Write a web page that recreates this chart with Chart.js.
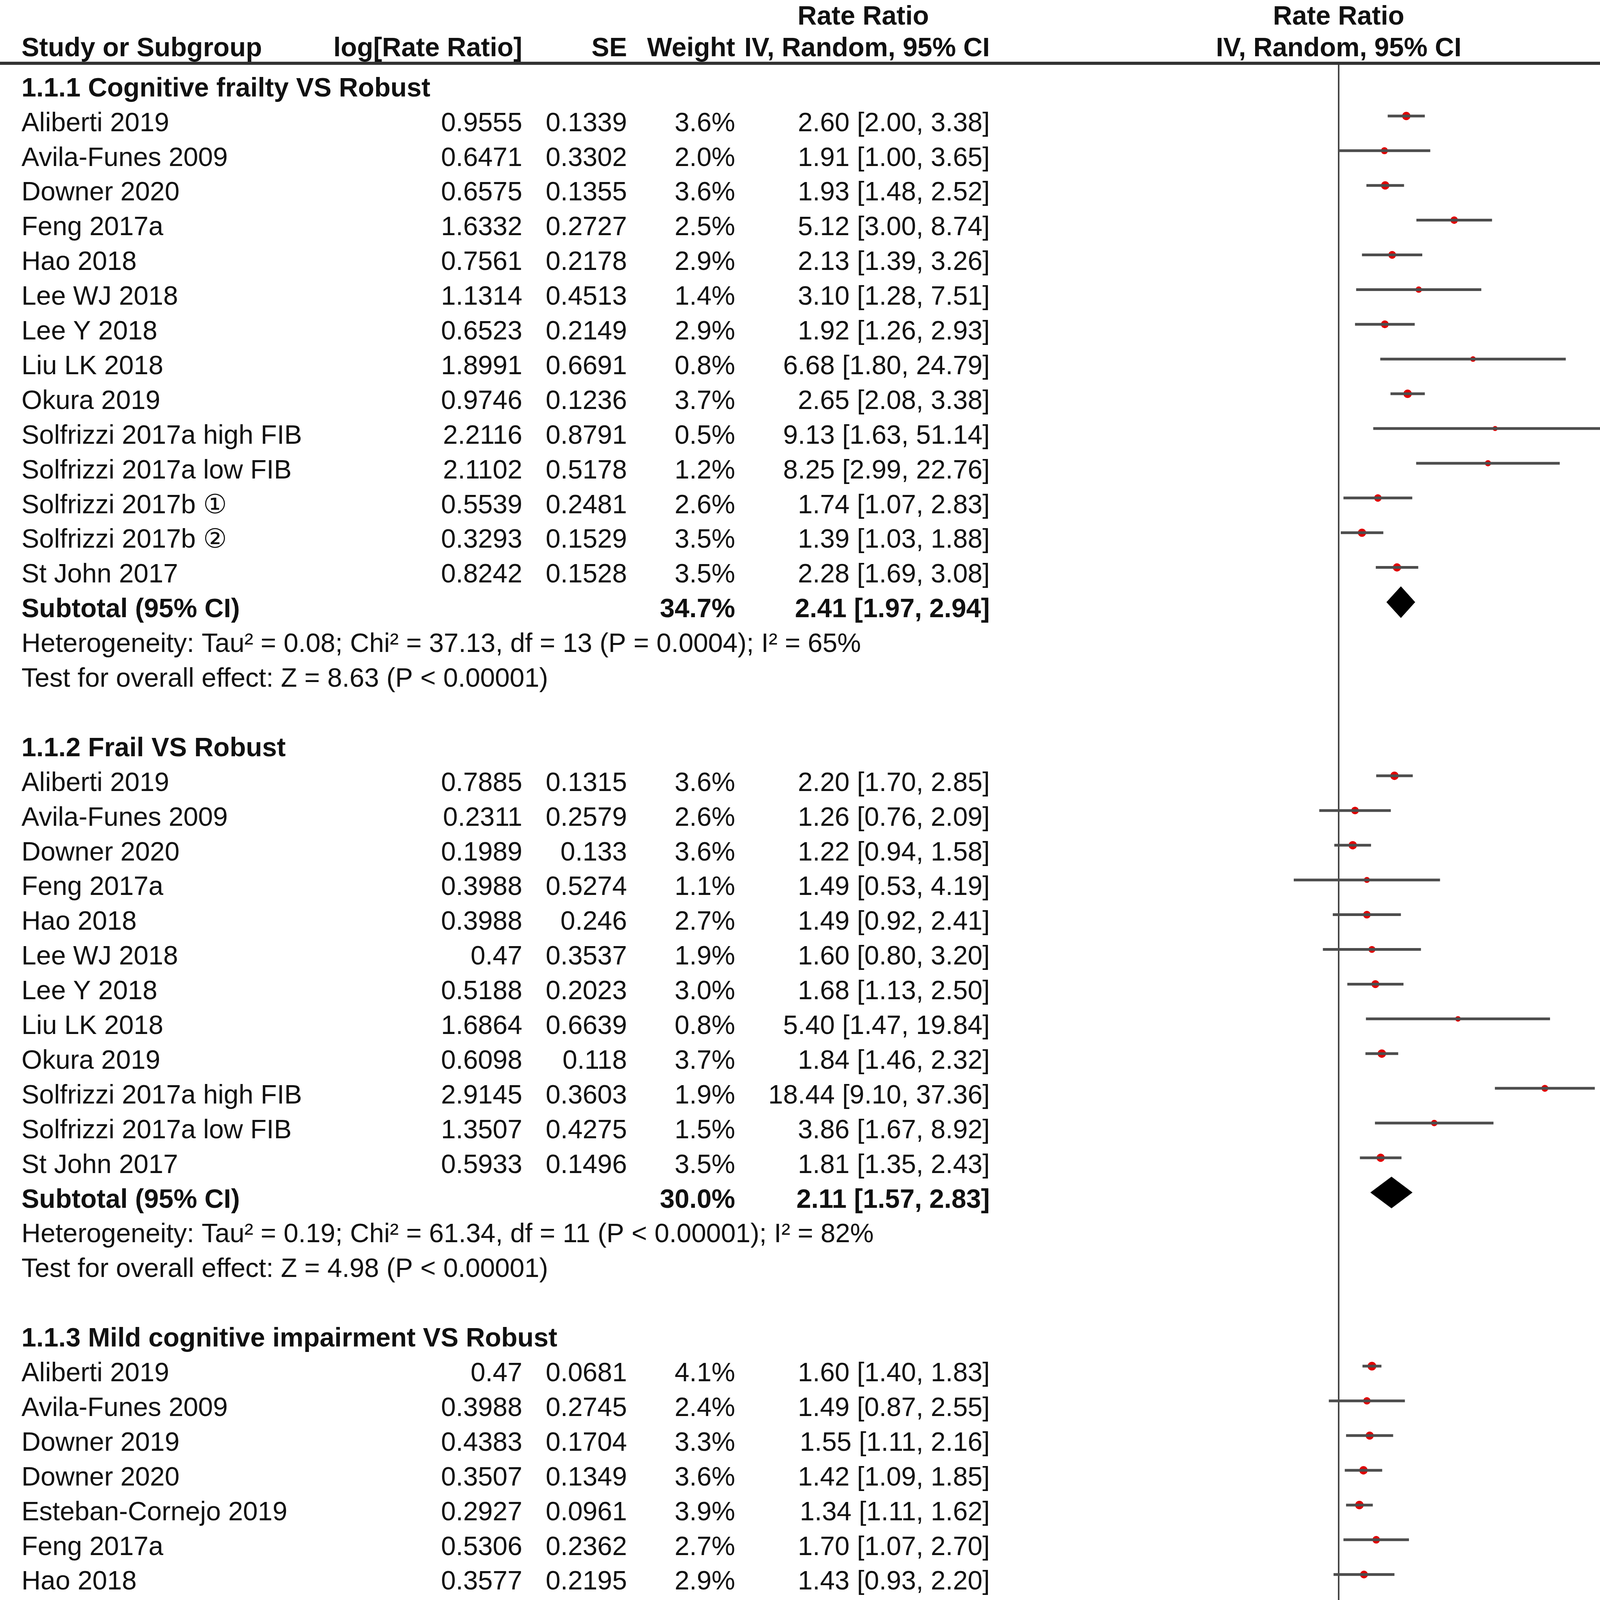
<!DOCTYPE html>
<html>
<head>
<meta charset="utf-8">
<title>Rate Ratio forest plot</title>
<script src="https://cdn.jsdelivr.net/npm/chart.js@4.4.1/dist/chart.umd.min.js"></script>
<style>
  html, body { margin: 0; padding: 0; background: #fff; }
  #wrap { width: 4328px; height: 5332px; position: relative; }
</style>
</head>
<body>
<div id="wrap"><canvas id="forest"></canvas></div>
<script>
// ---- study rows (plot order) ----
var studyGroup = [0,0,0,0,0,0,0,0,0,0,0,0,0,0,
                  1,1,1,1,1,1,1,1,1,1,1,1,
                  2,2,2,2,2,2,2,2,2,2,2,2,2];
var studyNames = [
  'Aliberti 2019', 'Avila-Funes 2009', 'Downer 2020', 'Feng 2017a', 'Hao 2018', 'Lee WJ 2018', 'Lee Y 2018',
  'Liu LK 2018', 'Okura 2019', 'Solfrizzi 2017a high FIB', 'Solfrizzi 2017a low FIB', 'Solfrizzi 2017b \u2460',
  'Solfrizzi 2017b \u2461', 'St John 2017',
  'Aliberti 2019', 'Avila-Funes 2009', 'Downer 2020', 'Feng 2017a', 'Hao 2018', 'Lee WJ 2018', 'Lee Y 2018',
  'Liu LK 2018', 'Okura 2019', 'Solfrizzi 2017a high FIB', 'Solfrizzi 2017a low FIB', 'St John 2017',
  'Aliberti 2019', 'Avila-Funes 2009', 'Downer 2019', 'Downer 2020', 'Esteban-Cornejo 2019', 'Feng 2017a',
  'Hao 2018', 'Lee WJ 2018', 'Lee Y 2018', 'Okura 2019', 'Solfrizzi 2017a high FIB', 'Solfrizzi 2017a low FIB',
  'St John 2017'
];
var logRR = [0.9555, 0.6471, 0.6575, 1.6332, 0.7561, 1.1314, 0.6523, 1.8991, 0.9746, 2.2116, 2.1102, 0.5539, 0.3293, 0.8242,
             0.7885, 0.2311, 0.1989, 0.3988, 0.3988, 0.47, 0.5188, 1.6864, 0.6098, 2.9145, 1.3507, 0.5933,
             0.47, 0.3988, 0.4383, 0.3507, 0.2927, 0.5306, 0.3577, 0.0953, -0.3567, 0.4187, 1.5539, 0.7467, 0.3988];
var seVals = [0.1339, 0.3302, 0.1355, 0.2727, 0.2178, 0.4513, 0.2149, 0.6691, 0.1236, 0.8791, 0.5178, 0.2481, 0.1529, 0.1528,
              0.1315, 0.2579, 0.133, 0.5274, 0.246, 0.3537, 0.2023, 0.6639, 0.118, 0.3603, 0.4275, 0.1496,
              0.0681, 0.2745, 0.1704, 0.1349, 0.0961, 0.2362, 0.2195, 1.2234, 0.2254, 0.1292, 0.5342, 0.5853, 0.1411];
var weights = [3.6, 2.0, 3.6, 2.5, 2.9, 1.4, 2.9, 0.8, 3.7, 0.5, 1.2, 2.6, 3.5, 3.5,
               3.6, 2.6, 3.6, 1.1, 2.7, 1.9, 3.0, 0.8, 3.7, 1.9, 1.5, 3.5,
               4.1, 2.4, 3.3, 3.6, 3.9, 2.7, 2.9, 0.3, 2.8, 3.7, 1.1, 1.0, 3.6];
var rateRatio = [2.60, 1.91, 1.93, 5.12, 2.13, 3.10, 1.92, 6.68, 2.65, 9.13, 8.25, 1.74, 1.39, 2.28,
                 2.20, 1.26, 1.22, 1.49, 1.49, 1.60, 1.68, 5.40, 1.84, 18.44, 3.86, 1.81,
                 1.60, 1.49, 1.55, 1.42, 1.34, 1.70, 1.43, 1.10, 0.70, 1.52, 4.73, 2.11, 1.49];
var ciLow = [2.00, 1.00, 1.48, 3.00, 1.39, 1.28, 1.26, 1.80, 2.08, 1.63, 2.99, 1.07, 1.03, 1.69,
             1.70, 0.76, 0.94, 0.53, 0.92, 0.80, 1.13, 1.47, 1.46, 9.10, 1.67, 1.35,
             1.40, 0.87, 1.11, 1.09, 1.11, 1.07, 0.93, 0.10, 0.45, 1.18, 1.66, 0.67, 1.13];
var ciHigh = [3.38, 3.65, 2.52, 8.74, 3.26, 7.51, 2.93, 24.79, 3.38, 51.14, 22.76, 2.83, 1.88, 3.08,
              2.85, 2.09, 1.58, 4.19, 2.41, 3.20, 2.50, 19.84, 2.32, 37.36, 8.92, 2.43,
              1.83, 2.55, 2.16, 1.85, 1.62, 2.70, 2.20, 12.10, 1.09, 1.96, 13.48, 6.65, 1.96];

// ---- subgroups ----
var groupTitles = ['1.1.1 Cognitive frailty VS Robust', '1.1.2 Frail VS Robust', '1.1.3 Mild cognitive impairment VS Robust'];
var groupWeight = [34.7, 30.0, 35.4];
var groupRR = [2.41, 2.11, 1.46];
var groupLow = [1.97, 1.57, 1.29];
var groupHigh = [2.94, 2.83, 1.64];
var groupHet = [
  'Heterogeneity: Tau\u00b2 = 0.08; Chi\u00b2 = 37.13, df = 13 (P = 0.0004); I\u00b2 = 65%',
  'Heterogeneity: Tau\u00b2 = 0.19; Chi\u00b2 = 61.34, df = 11 (P < 0.00001); I\u00b2 = 82%',
  'Heterogeneity: Tau\u00b2 = 0.01; Chi\u00b2 = 19.15, df = 12 (P = 0.08); I\u00b2 = 37%'
];
var groupTest = [
  'Test for overall effect: Z = 8.63 (P < 0.00001)',
  'Test for overall effect: Z = 4.98 (P < 0.00001)',
  'Test for overall effect: Z = 6.17 (P < 0.00001)'
];

// ---- overall ----
var totalEffect = [1.93, 1.70, 2.20]; // estimate, low, high
var totalNotes = [
  'Heterogeneity: Tau\u00b2 = 0.10; Chi\u00b2 = 158.65, df = 38 (P < 0.00001); I\u00b2 = 76%',
  'Test for overall effect: Z = 10.05 (P < 0.00001)',
  'Test for subgroup differences: Chi\u00b2 = 20.35, df = 2 (P < 0.0001), I\u00b2 = 90.2%'
];

// ---- axis ----
var xTicks = [0.01, 0.1, 1, 10, 100];
var xTickLabels = ['0.01', '0.1', '1', '10', '100'];

// layout of the rows: one unit on the y scale is one text line
var rows = [];
var studyRow = [];
var groupRow = [];
var r = 0;
for (var g = 0; g < groupTitles.length; g++) {
  rows.push({kind: 'group', text: groupTitles[g], row: r++});
  for (var i = 0; i < studyNames.length; i++) {
    if (studyGroup[i] !== g) continue;
    studyRow[i] = r;
    rows.push({kind: 'study', i: i, row: r++});
  }
  groupRow[g] = r;
  rows.push({kind: 'subtotal', g: g, row: r++});
  rows.push({kind: 'note', text: groupHet[g], row: r++});
  rows.push({kind: 'note', text: groupTest[g], row: r++});
  r++; // blank line
}
var totalRow = r;
rows.push({kind: 'total', row: r++});
totalNotes.forEach(function(t) { rows.push({kind: 'note', text: t, row: r++}); });

var FONT = "'Liberation Sans', Arial, sans-serif";
var DIAMOND_HALF = 0.45; // half height of a diamond, in rows
var TEXT_SHIFT = 20;     // text sits a little below the marks

function fmtCI(est, lo, hi) {
  return est.toFixed(2) + ' [' + lo.toFixed(2) + ', ' + hi.toFixed(2) + ']';
}

// whiskers: one line dataset broken by gaps
var whiskerData = [];
for (var k = 0; k < studyNames.length; k++) {
  whiskerData.push({x: ciLow[k], y: studyRow[k]});
  whiskerData.push({x: ciHigh[k], y: studyRow[k]});
  whiskerData.push({x: 1, y: null});
}
var pointData = studyNames.map(function(n, k) { return {x: rateRatio[k], y: studyRow[k]}; });
var pointSizes = weights.map(function(w) { return 4 + 3.5 * Math.sqrt(w); });

function diamond(est, lo, hi, row) {
  return {
    type: 'line',
    data: [
      {x: lo, y: row}, {x: est, y: row - DIAMOND_HALF},
      {x: hi, y: row}, {x: est, y: row + DIAMOND_HALF}, {x: lo, y: row}
    ],
    borderColor: '#000',
    backgroundColor: '#000',
    borderWidth: 1,
    pointRadius: 0,
    tension: 0,
    fill: 'shape'
  };
}

var datasets = [{
  type: 'line',
  data: whiskerData,
  borderColor: '#4d4d4d',
  borderWidth: 7,
  pointRadius: 0,
  spanGaps: false,
  fill: false
}, {
  type: 'line',
  data: pointData,
  showLine: false,
  pointRadius: pointSizes,
  pointStyle: 'circle',
  pointBackgroundColor: '#e00000',
  pointBorderWidth: 0
}];
for (var d = 0; d < groupTitles.length; d++) {
  datasets.push(diamond(groupRR[d], groupLow[d], groupHigh[d], groupRow[d]));
}
datasets.push(diamond(totalEffect[0], totalEffect[1], totalEffect[2], totalRow));

// chart area spans rows from the header rule down to the axis
var ROW_PX = 88.9;
var AREA_TOP = 162, AREA_BOTTOM = 5100;
var yMin = -(208 - AREA_TOP) / ROW_PX;
var yMax = yMin + (AREA_BOTTOM - AREA_TOP) / ROW_PX;

var tablePlugin = {
  id: 'forestTable',
  afterDraw: function(chart) {
    var ctx = chart.ctx, ys = chart.scales.y, xs = chart.scales.x, area = chart.chartArea;
    var x1 = xs.getPixelForValue(1);
    ctx.save();

    // header rule
    ctx.fillStyle = '#333';
    ctx.fillRect(0, area.top - 4, chart.width - 6, 8);

    // ticks cross the axis line
    ctx.strokeStyle = '#333';
    ctx.lineWidth = 5;
    xTicks.forEach(function(v) {
      var px = xs.getPixelForValue(v);
      ctx.beginPath();
      ctx.moveTo(px, area.bottom - 23);
      ctx.lineTo(px, area.bottom);
      ctx.stroke();
    });

    ctx.fillStyle = '#111';
    ctx.textBaseline = 'middle';
    function put(text, x, row, align, bold, shift) {
      ctx.font = (bold ? 'bold ' : '') + '68px ' + FONT;
      ctx.textAlign = align;
      ctx.fillText(text, x, ys.getPixelForValue(row) + (shift === undefined ? TEXT_SHIFT : shift));
    }

    // column headers, sitting on the header rule
    put('Rate Ratio', 2210, -2, 'center', true, 14);
    put('Rate Ratio', x1, -2, 'center', true, 14);
    put('Study or Subgroup', 55, -1, 'left', true, 6);
    put('log[Rate Ratio]', 1337, -1, 'right', true, 6);
    put('SE', 1605, -1, 'right', true, 6);
    put('Weight', 1882, -1, 'right', true, 6);
    put('IV, Random, 95% CI', 2534, -1, 'right', true, 6);
    put('IV, Random, 95% CI', x1, -1, 'center', true, 6);

    rows.forEach(function(row) {
      if (row.kind === 'group') {
        put(row.text, 55, row.row, 'left', true);
      } else if (row.kind === 'study') {
        var i = row.i;
        put(studyNames[i], 55, row.row, 'left', false);
        put(String(logRR[i]), 1337, row.row, 'right', false);
        put(String(seVals[i]), 1605, row.row, 'right', false);
        put(weights[i].toFixed(1) + '%', 1882, row.row, 'right', false);
        put(fmtCI(rateRatio[i], ciLow[i], ciHigh[i]), 2534, row.row, 'right', false);
      } else if (row.kind === 'subtotal') {
        put('Subtotal (95% CI)', 55, row.row, 'left', true);
        put(groupWeight[row.g].toFixed(1) + '%', 1882, row.row, 'right', true);
        put(fmtCI(groupRR[row.g], groupLow[row.g], groupHigh[row.g]), 2534, row.row, 'right', true);
      } else if (row.kind === 'total') {
        put('Total (95% CI)', 55, row.row, 'left', true);
        put('100.0%', 1882, row.row, 'right', true);
        put(fmtCI(totalEffect[0], totalEffect[1], totalEffect[2]), 2534, row.row, 'right', true);
      } else {
        put(row.text, 55, row.row, 'left', false);
      }
    });

    // axis captions
    ctx.font = '67px ' + FONT;
    ctx.textAlign = 'right';
    ctx.fillText('Favours [experimental]', x1 - 33, area.bottom + 150);
    ctx.textAlign = 'left';
    ctx.fillText('Favours [control]', x1 + 27, area.bottom + 150);
    ctx.restore();
  }
};

var ctx = document.getElementById('forest');
var chart = new Chart(ctx, {
  type: 'line',
  data: { datasets: datasets },
  options: {
    responsive: true,
    maintainAspectRatio: false,
    devicePixelRatio: 1,
    animation: false,
    events: [],
    layout: { padding: { left: 2593, right: 67, top: AREA_TOP, bottom: 5332 - AREA_BOTTOM - 120 } },
    plugins: { legend: { display: false }, tooltip: { enabled: false } },
    scales: {
      x: {
        type: 'logarithmic',
        min: 0.01,
        max: 100,
        afterBuildTicks: function(scale) {
          scale.ticks = xTicks.map(function(v) { return {value: v}; });
        },
        afterFit: function(scale) { scale.height = 120; },
        ticks: {
          align: 'inner',
          maxRotation: 0,
          autoSkip: false,
          padding: 6,
          color: '#111',
          font: { family: FONT, size: 64 },
          callback: function(value) {
            var idx = xTicks.indexOf(value);
            return idx >= 0 ? xTickLabels[idx] : '';
          }
        },
        grid: {
          drawOnChartArea: true,
          color: function(c) { return c.tick && c.tick.value === 1 ? '#444' : 'rgba(0,0,0,0)'; },
          lineWidth: 4,
          tickColor: '#333',
          tickWidth: 5,
          tickLength: 27
        },
        border: { display: true, color: '#333', width: 8 }
      },
      y: {
        type: 'linear',
        display: false,
        reverse: true,
        min: yMin,
        max: yMax
      }
    }
  },
  plugins: [tablePlugin]
});
</script>
</body>
</html>
